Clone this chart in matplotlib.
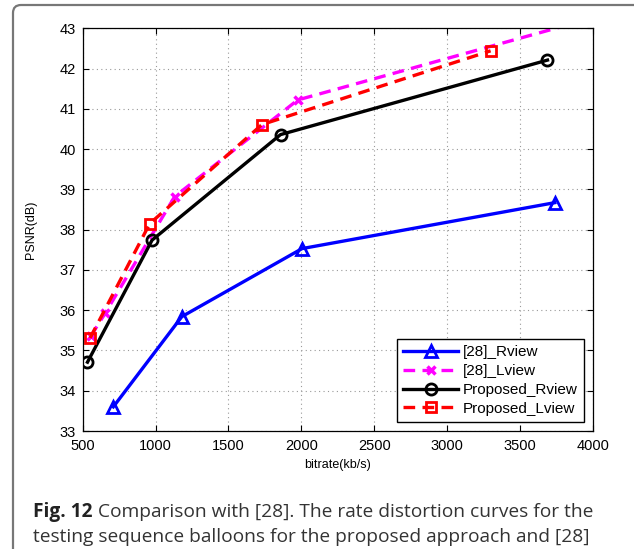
import matplotlib.pyplot as plt
from matplotlib.patches import FancyBboxPatch

# data
rview_x = [710, 1180, 2005, 3738]
rview_y = [33.60, 35.84, 37.53, 38.67]

lview_x = [555, 655, 1131, 1975, 3765]
lview_y = [35.35, 35.93, 38.82, 41.22, 43.02]

prop_r_x = [533, 976, 1857, 3688]
prop_r_y = [34.71, 37.74, 40.36, 42.21]

prop_l_x = [551, 960, 1730, 3298]
prop_l_y = [35.31, 38.15, 40.61, 42.44]

xticks = [500, 1000, 1500, 2000, 2500, 3000, 3500, 4000]
yticks = [33, 34, 35, 36, 37, 38, 39, 40, 41, 42, 43]

plt.rcParams['font.family'] = ['Liberation Sans', 'DejaVu Sans']

fig = plt.figure(figsize=(6.34, 5.49), dpi=100)
ax = fig.add_axes([0.1304, 0.2149, 0.8049, 0.7336])

ax.plot(rview_x, rview_y, color='#0000ff', lw=2.4, marker='^', ms=9,
        mfc='none', mew=2, label='[28]_Rview')
ax.plot(lview_x, lview_y, color='#ff00ff', lw=2.4, ls='--', dashes=(3.5, 2.2),
        marker='x', ms=6, mew=2.5, markevery=[0, 1, 2, 3], label='[28]_Lview')
ax.plot(prop_r_x, prop_r_y, color='black', lw=2.4, marker='o', ms=8,
        mfc='none', mew=2, label='Proposed_Rview')
ax.plot(prop_l_x, prop_l_y, color='#ff0000', lw=2.4, ls='--', dashes=(3.5, 2.2),
        marker='s', ms=7.5, mfc='none', mew=2, label='Proposed_Lview')

ax.set_xlim(500, 4000)
ax.set_ylim(33, 43)
ax.set_xticks(xticks)
ax.set_yticks(yticks)
ax.tick_params(direction='in', top=True, right=True, labelsize=10.5, length=4)
ax.tick_params(axis='x', pad=6)
ax.tick_params(axis='y', pad=5)
ax.grid(True, ls=(0, (1, 3)), color='#999999', lw=0.8)
for s in ax.spines.values():
    s.set_linewidth(0.9)

ax.set_xlabel('bitrate(kb/s)', fontsize=9, labelpad=4)
ax.set_ylabel('PSNR(dB)', fontsize=9, labelpad=16)

leg = ax.legend(loc='lower right', fontsize=11, handlelength=3.6,
                fancybox=False, framealpha=1, edgecolor='black',
                borderaxespad=0.6, labelspacing=0.32, handletextpad=0.3,
                borderpad=0.4)
leg.get_frame().set_linewidth(1.0)

# page frame around figure + caption (display coords, origin bottom-left)
frame = FancyBboxPatch((13, -100), 700, 644, boxstyle='round,pad=0,rounding_size=8',
                       transform=None, fill=False, edgecolor='#777777', lw=1.6)
fig.patches.append(frame)

cap_size = 13.8
fig.text(33 / 634, 1 - 512 / 549, 'Fig. 12', fontsize=cap_size, fontweight='bold',
         family='Open Sans', va='center', ha='left', color='#222222')
fig.text(98 / 634, 1 - 512 / 549,
         'Comparison with [28]. The rate distortion curves for the',
         fontsize=cap_size, family='Open Sans', va='center', ha='left', color='#333333')
fig.text(33 / 634, 1 - 537 / 549,
         'testing sequence balloons for the proposed approach and [28]',
         fontsize=cap_size, family='Open Sans', va='center', ha='left', color='#333333')

fig.savefig('out.png', dpi=100)
